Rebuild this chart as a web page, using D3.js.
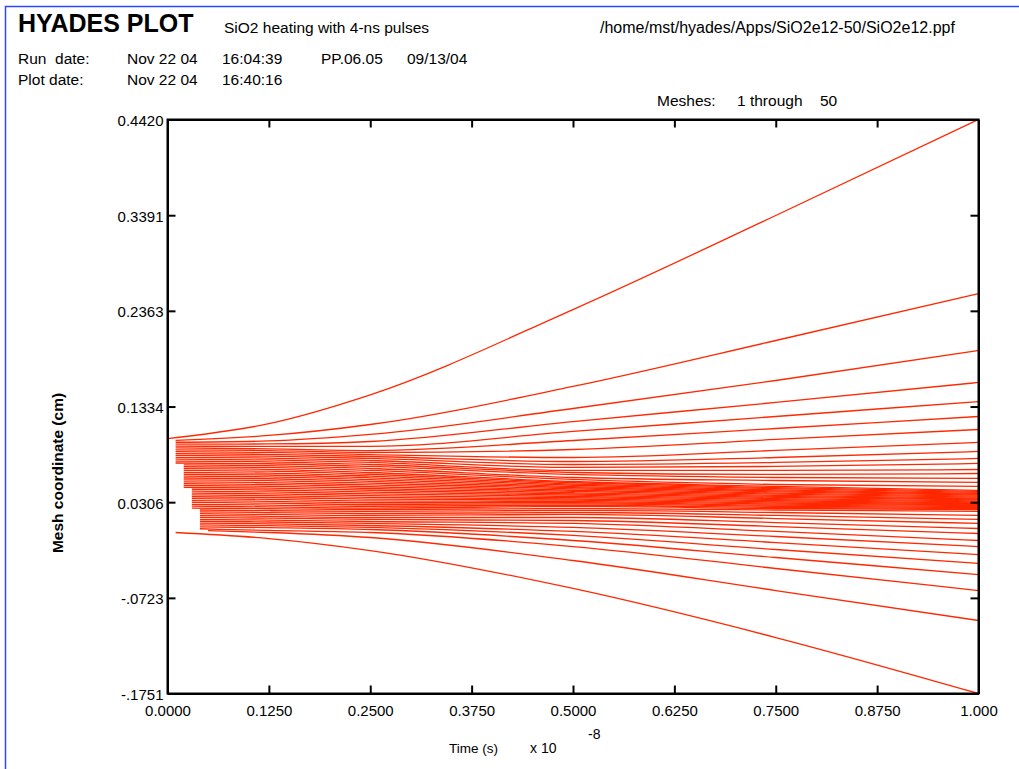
<!DOCTYPE html>
<html>
<head>
<meta charset="utf-8">
<script src="https://cdn.jsdelivr.net/npm/d3@7"></script>
<style>
  html, body { margin: 0; padding: 0; background: #ffffff; }
  svg { display: block; }
  text { font-family: "Liberation Sans", Arial, Helvetica, sans-serif; fill: #000; }
</style>
</head>
<body>
<script>
// ---------------- DATA ----------------
// tick values / labels
const xTicks = [0, 0.125, 0.25, 0.375, 0.5, 0.625, 0.75, 0.875, 1.0];
const xTickLabels = ["0.0000", "0.1250", "0.2500", "0.3750", "0.5000", "0.6250", "0.7500", "0.8750", "1.000"];
const yTicks = [-0.1751, -0.0723, 0.0306, 0.1334, 0.2363, 0.3391, 0.4420];
const yTickLabels = ["-.1751", "-.0723", "0.0306", "0.1334", "0.2363", "0.3391", "0.4420"];

// sample times (x 1e-8 s)
const sampleTimes = [0.125, 0.25, 0.5, 0.75, 1.0];

// mesh boundaries 1..51 (bottom to top): time at which each curve starts being drawn
const startTime = [
  0.01, 0.05,
  0.04, 0.04, 0.04, 0.04, 0.04, 0.04, 0.04, 0.04, 0.04, 0.04, 0.04,
  0.03, 0.03, 0.03, 0.03, 0.03, 0.03, 0.03, 0.03, 0.03, 0.03, 0.03,
  0.02, 0.02, 0.02, 0.02, 0.02, 0.02, 0.02, 0.02, 0.02, 0.02, 0.02, 0.02, 0.02,
  0.01, 0.01, 0.01, 0.01, 0.01, 0.01, 0.01, 0.01, 0.01, 0.01, 0.01, 0.01, 0.01,
  0.0
];
// mesh coordinate (cm) at the start of each curve
const posStart = [
  -0.0020, 0.0000, 0.0020, 0.0041, 0.0061, 0.0081, 0.0101, 0.0121, 0.0142, 0.0162,
  0.0182, 0.0202, 0.0222, 0.0243, 0.0263, 0.0283, 0.0303, 0.0323, 0.0344, 0.0364,
  0.0384, 0.0404, 0.0424, 0.0445, 0.0465, 0.0485, 0.0505, 0.0525, 0.0546, 0.0566,
  0.0586, 0.0606, 0.0626, 0.0647, 0.0667, 0.0687, 0.0707, 0.0727, 0.0748, 0.0768,
  0.0788, 0.0808, 0.0828, 0.0849, 0.0869, 0.0889, 0.0909, 0.0929, 0.0950, 0.0970,
  0.0990
];
const pos0125 = [
  -0.0085, -0.0020, 0.0002, 0.0032, 0.0053, 0.0073, 0.0093, 0.0113, 0.0134, 0.0154,
  0.0174, 0.0194, 0.0214, 0.0235, 0.0255, 0.0275, 0.0295, 0.0315, 0.0336, 0.0356,
  0.0376, 0.0396, 0.0416, 0.0437, 0.0457, 0.0477, 0.0497, 0.0517, 0.0538, 0.0558,
  0.0578, 0.0598, 0.0618, 0.0639, 0.0659, 0.0679, 0.0699, 0.0719, 0.0740, 0.0760,
  0.0780, 0.0800, 0.0820, 0.0841, 0.0861, 0.0879, 0.0905, 0.0932, 0.0964, 0.1023,
  0.1150
];
const pos0250 = [
  -0.0214, -0.0074, -0.0020, 0.0012, 0.0034, 0.0055, 0.0077, 0.0098, 0.0120, 0.0141,
  0.0163, 0.0184, 0.0206, 0.0227, 0.0243, 0.0262, 0.0281, 0.0300, 0.0319, 0.0339,
  0.0358, 0.0377, 0.0396, 0.0415, 0.0434, 0.0453, 0.0472, 0.0491, 0.0510, 0.0530,
  0.0549, 0.0568, 0.0587, 0.0606, 0.0625, 0.0647, 0.0668, 0.0690, 0.0711, 0.0733,
  0.0754, 0.0776, 0.0797, 0.0818, 0.0840, 0.0861, 0.0905, 0.0958, 0.1034, 0.1141,
  0.1460
];
const pos0500 = [
  -0.0622, -0.0321, -0.0171, -0.0106, -0.0052, -0.0009, 0.0034, 0.0077, 0.0109, 0.0141,
  0.0174, 0.0195, 0.0217, 0.0238, 0.0260, 0.0273, 0.0287, 0.0300, 0.0314, 0.0327,
  0.0340, 0.0354, 0.0367, 0.0381, 0.0394, 0.0407, 0.0421, 0.0434, 0.0448, 0.0461,
  0.0474, 0.0488, 0.0501, 0.0515, 0.0528, 0.0550, 0.0571, 0.0604, 0.0625, 0.0647,
  0.0679, 0.0711, 0.0743, 0.0786, 0.0872, 0.0969, 0.1066, 0.1173, 0.1313, 0.1550,
  0.2377
];
const pos0750 = [
  -0.1149, -0.0644, -0.0407, -0.0289, -0.0203, -0.0128, -0.0063, -0.0009, 0.0044, 0.0087,
  0.0130, 0.0163, 0.0195, 0.0222, 0.0238, 0.0250, 0.0262, 0.0274, 0.0285, 0.0297,
  0.0309, 0.0321, 0.0333, 0.0345, 0.0357, 0.0368, 0.0380, 0.0392, 0.0404, 0.0416,
  0.0428, 0.0439, 0.0451, 0.0463, 0.0475, 0.0496, 0.0539, 0.0571, 0.0604, 0.0647,
  0.0690, 0.0733, 0.0786, 0.0862, 0.0980, 0.1098, 0.1227, 0.1378, 0.1614, 0.2044,
  0.3388
];
const pos1000 = [
  -0.1751, -0.0966, -0.0644, -0.0472, -0.0353, -0.0257, -0.0171, -0.0106, -0.0031, 0.0023,
  0.0077, 0.0120, 0.0163, 0.0206, 0.0227, 0.0237, 0.0248, 0.0258, 0.0268, 0.0278,
  0.0289, 0.0299, 0.0309, 0.0319, 0.0330, 0.0340, 0.0350, 0.0360, 0.0370, 0.0381,
  0.0391, 0.0401, 0.0411, 0.0422, 0.0432, 0.0475, 0.0518, 0.0561, 0.0614, 0.0657,
  0.0722, 0.0776, 0.0851, 0.0948, 0.1087, 0.1227, 0.1388, 0.1593, 0.1937, 0.2549,
  0.4420
];

// ---------------- DRAW ----------------
const W = 1019, H = 769;
const svg = d3.select("body").append("svg").attr("width", W).attr("height", H);

// outer blue frame (partly cut by the window)
svg.append("path")
  .attr("d", `M5.5,${H} V6.5 H${W}`)
  .attr("fill", "none").attr("stroke", "#2a48ff").attr("stroke-width", 1.5);

const plot = { left: 167.5, right: 978.5, top: 119.5, bottom: 693.5 };
const x = d3.scaleLinear().domain([0, 1.0]).range([plot.left, plot.right]);
const y = d3.scaleLinear().domain([-0.1751, 0.4420]).range([plot.bottom, plot.top]);

// curves
const series = [pos0125, pos0250, pos0500, pos0750, pos1000];
const lines = d3.range(posStart.length).map(i => {
  const pts = [[startTime[i], posStart[i]]];
  sampleTimes.forEach((t, k) => pts.push([t, series[k][i]]));
  return pts;
});
const lineGen = d3.line().x(d => x(d[0])).y(d => y(d[1])).curve(d3.curveMonotoneX);
svg.append("g").selectAll("path").data(lines).join("path")
  .attr("d", lineGen)
  .attr("fill", "none")
  .attr("stroke", "#ff2800")
  .attr("stroke-width", 1.3);

// axes (ticks inward on all four sides)
const fmtX = (d, i) => xTickLabels[i];
const fmtY = (d, i) => yTickLabels[i];
const axB = svg.append("g").attr("transform", `translate(0,${plot.bottom})`)
  .call(d3.axisBottom(x).tickValues(xTicks).tickFormat(fmtX).tickSize(-8).tickSizeOuter(0).tickPadding(12));
const axT = svg.append("g").attr("transform", `translate(0,${plot.top})`)
  .call(d3.axisTop(x).tickValues(xTicks).tickFormat("").tickSize(-8).tickSizeOuter(0));
const axL = svg.append("g").attr("transform", `translate(${plot.left},0)`)
  .call(d3.axisLeft(y).tickValues(yTicks).tickFormat(fmtY).tickSize(-8).tickSizeOuter(0).tickPadding(4));
const axR = svg.append("g").attr("transform", `translate(${plot.right},0)`)
  .call(d3.axisRight(y).tickValues(yTicks).tickFormat("").tickSize(-8).tickSizeOuter(0));
[axB, axT, axL, axR].forEach(a => {
  a.select(".domain").attr("stroke", "#000").attr("stroke-width", 2);
  a.selectAll(".tick line").attr("stroke", "#000").attr("stroke-width", 2);
  a.selectAll("text").attr("font-size", 15).attr("font-family", "Liberation Sans, Arial, sans-serif").attr("fill", "#000");
});
axL.selectAll(".tick text").attr("dy", "0.4em");

// frame
svg.append("rect")
  .attr("x", plot.left).attr("y", plot.top)
  .attr("width", plot.right - plot.left).attr("height", plot.bottom - plot.top)
  .attr("fill", "none").attr("stroke", "#000").attr("stroke-width", 2);

// header texts
const txt = (s, tx, ty, size, weight) => svg.append("text")
  .attr("x", tx).attr("y", ty).attr("font-size", size).attr("font-weight", weight || "normal").text(s);
txt("HYADES PLOT", 18, 32, 25, "bold");
txt("SiO2 heating with 4-ns pulses", 224, 33, 15.5);
txt("/home/mst/hyades/Apps/SiO2e12-50/SiO2e12.ppf", 600, 33, 16);
txt("Run  date:", 18, 64, 15.5).style("white-space", "pre");
txt("Nov 22 04", 127, 64, 15.5);
txt("16:04:39", 222, 64, 15.5);
txt("PP.06.05", 321, 64, 15.5);
txt("09/13/04", 407, 64, 15.5);
txt("Plot date:", 18, 85, 15.5);
txt("Nov 22 04", 127, 85, 15.5);
txt("16:40:16", 222, 85, 15.5);
txt("Meshes:", 657, 106, 15.5);
txt("1 through", 737, 106, 15.5);
txt("50", 820, 106, 15.5);

// axis titles
svg.append("text")
  .attr("transform", "translate(63,473) rotate(-90)")
  .attr("text-anchor", "middle").attr("font-size", 15.5).attr("font-weight", "bold")
  .text("Mesh coordinate (cm)");
txt("Time (s)", 449, 753, 13.5);
txt("x 10", 530, 753, 14);
txt("-8", 588, 739, 14);
</script>
</body>
</html>
